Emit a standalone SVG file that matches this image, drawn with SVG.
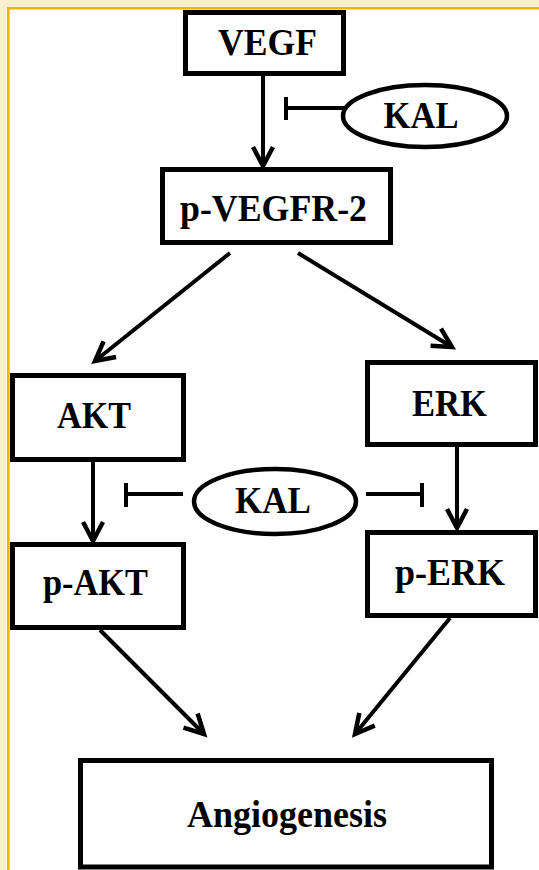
<svg xmlns="http://www.w3.org/2000/svg" width="539" height="870" viewBox="0 0 539 870">
<style>
.box{fill:#fff;stroke:#000;stroke-width:5}
.ell{fill:#fff;stroke:#000;stroke-width:4.5}
.lbl{font-family:"Liberation Serif","Times New Roman",serif;font-weight:bold;font-size:38px;fill:#000;text-anchor:middle}
.ln{fill:none;stroke:#000;stroke-width:4}
</style>
<defs>
<marker id="ah" markerUnits="userSpaceOnUse" markerWidth="30" markerHeight="30" viewBox="-22 -15 30 30" refX="0" refY="0" orient="auto">
<path d="M-19,-10 L0,0 L-19,10" fill="none" stroke="#000" stroke-width="4.5"/>
</marker>
</defs>
<rect x="0" y="0" width="539" height="870" fill="#fcefcf"/>
<rect x="9" y="9" width="530" height="861" fill="#fff"/>
<path d="M8.3,870 V8.3 H539" fill="none" stroke="#f0b400" stroke-width="2.6"/>
<g id="connectors">
<line class="ln" x1="263" y1="76" x2="263" y2="166" marker-end="url(#ah)"/>
<path class="ln" d="M346,108 H286 M286,97 V120"/>
<line class="ln" x1="230" y1="253" x2="95" y2="361" marker-end="url(#ah)"/>
<line class="ln" x1="298" y1="253" x2="452" y2="347" marker-end="url(#ah)"/>
<line class="ln" x1="93" y1="462" x2="93" y2="541" marker-end="url(#ah)"/>
<line class="ln" x1="457" y1="447" x2="457" y2="528" marker-end="url(#ah)"/>
<path class="ln" d="M183,494 H126 M126,483 V507"/>
<path class="ln" d="M366,494 H422 M422,483 V507"/>
<line class="ln" x1="100" y1="630" x2="204" y2="734" marker-end="url(#ah)"/>
<line class="ln" x1="450" y1="618" x2="355" y2="734" marker-end="url(#ah)"/>
</g>
<g id="vegf"><rect class="box" x="185.5" y="12.5" width="158" height="61"/><text class="lbl" x="267.5" y="55" textLength="99" lengthAdjust="spacingAndGlyphs">VEGF</text></g>
<g id="kal-top"><ellipse class="ell" cx="425" cy="116" rx="82" ry="31"/><text class="lbl" x="421" y="128" textLength="75" lengthAdjust="spacingAndGlyphs">KAL</text></g>
<g id="pvegfr2"><rect class="box" x="162.5" y="169.5" width="228" height="73"/><text class="lbl" x="273.5" y="221" textLength="187" lengthAdjust="spacingAndGlyphs">p-VEGFR-2</text></g>
<g id="akt"><rect class="box" x="12.5" y="375.5" width="171" height="84"/><text class="lbl" x="94" y="428" textLength="74" lengthAdjust="spacingAndGlyphs">AKT</text></g>
<g id="erk"><rect class="box" x="367.5" y="362.5" width="168" height="82"/><text class="lbl" x="449.5" y="416" textLength="75" lengthAdjust="spacingAndGlyphs">ERK</text></g>
<g id="kal-mid"><ellipse class="ell" cx="275" cy="501.5" rx="81" ry="32.5"/><text class="lbl" x="273" y="513" textLength="76" lengthAdjust="spacingAndGlyphs">KAL</text></g>
<g id="pakt"><rect class="box" x="12.5" y="544.5" width="171" height="83"/><text class="lbl" x="95.5" y="595" textLength="105" lengthAdjust="spacingAndGlyphs">p-AKT</text></g>
<g id="perk"><rect class="box" x="367.5" y="532.5" width="168" height="83"/><text class="lbl" x="450" y="585" textLength="110" lengthAdjust="spacingAndGlyphs">p-ERK</text></g>
<g id="angiogenesis"><rect class="box" x="80.5" y="760.5" width="411" height="106.5"/><text class="lbl" x="287" y="827" textLength="200" lengthAdjust="spacingAndGlyphs">Angiogenesis</text></g>
</svg>
